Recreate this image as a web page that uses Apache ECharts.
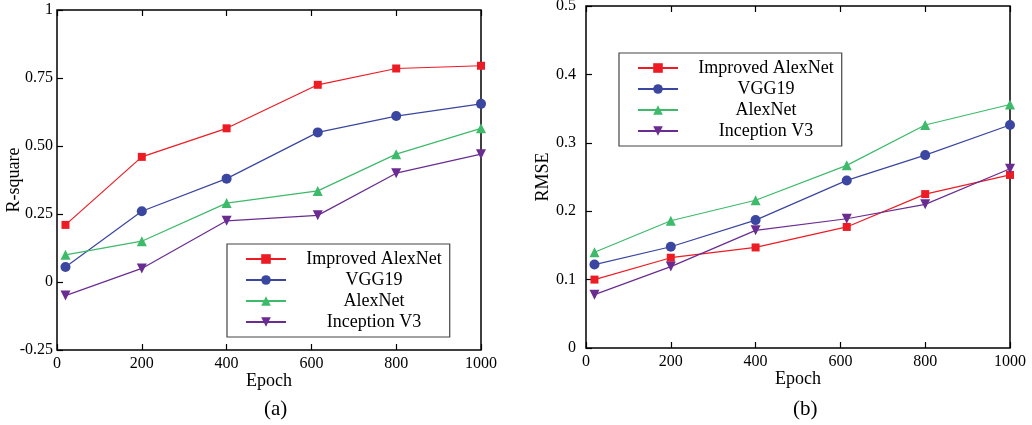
<!DOCTYPE html>
<html>
<head>
<meta charset="utf-8">
<script src="https://cdn.jsdelivr.net/npm/echarts@6/dist/echarts.min.js"></script>
<style>
  html, body { margin: 0; padding: 0; background: #fff; }
  #chart { width: 1032px; height: 425px; }
</style>
</head>
<body>
<div id="chart"></div>
<script>
// epochs of the six checkpoints
const epochs = [20, 200, 400, 615, 800, 1000];
const seriesNames = ['Improved AlexNet', 'VGG19', 'AlexNet', 'Inception V3'];

// (a) R-square
const r2Improved = [0.21, 0.46, 0.565, 0.725, 0.785, 0.795];
const r2Vgg = [0.055, 0.26, 0.38, 0.55, 0.61, 0.655];
const r2Alex = [0.1, 0.15, 0.29, 0.335, 0.47, 0.565];
const r2Incep = [-0.05, 0.05, 0.225, 0.245, 0.4, 0.47];

// (b) RMSE
const rmseImproved = [0.1, 0.132, 0.147, 0.177, 0.225, 0.253];
const rmseVgg = [0.122, 0.148, 0.187, 0.245, 0.282, 0.326];
const rmseAlex = [0.14, 0.186, 0.216, 0.267, 0.326, 0.356];
const rmseIncep = [0.078, 0.119, 0.172, 0.189, 0.21, 0.262];

const r2Ticks = { '-0.25': '-0.25', '0': '0', '0.25': '0.25', '0.5': '0.50', '0.75': '0.75', '1': '1' };
const rmseTicks = ['0', '0.1', '0.2', '0.3', '0.4', '0.5'];

const colors = ['#ed1c24', '#3a46a0', '#3dba6a', '#6a2c91'];
const symbols = ['rect', 'circle', 'triangle', 'path://M0,0 L10,0 L5,9 Z'];
const symbolSizes = [8, 10, 10, 10];

const font = 'Liberation Serif';

let chart = echarts.init(document.getElementById('chart'));

function makeSeries(name, idx, data, gi) {
  return {
    name: name,
    type: 'line',
    xAxisIndex: gi * 2,
    yAxisIndex: gi,
    data: epochs.map((e, i) => [e, data[i]]),
    symbol: symbols[idx],
    symbolSize: symbolSizes[idx],
    showAllSymbol: true,
    lineStyle: { color: colors[idx], width: 1.2 },
    itemStyle: { color: colors[idx] },
    emphasis: { disabled: true },
  };
}

function xAxes(gi) {
  return [
    {
      type: 'value',
      gridIndex: gi,
      min: 0,
      max: 1000,
      interval: 200,
      name: 'Epoch',
      nameLocation: 'middle',
      nameGap: 22,
      nameMoveOverlap: false,
      nameTextStyle: { fontFamily: font, fontSize: 18, color: '#000' },
      axisLine: { show: false, onZero: false },
      axisTick: { inside: true, length: 6, lineStyle: { color: '#000', width: 1.2 } },
      axisLabel: { fontFamily: font, fontSize: 16, color: '#000', margin: 6, formatter: (v) => String(v) },
      splitLine: { show: false },
    },
    {
      type: 'value',
      gridIndex: gi,
      position: 'top',
      min: 0,
      max: 1000,
      interval: 200,
      axisLine: { show: false, onZero: false },
      axisTick: { inside: true, length: 6, lineStyle: { color: '#000', width: 1.2 } },
      axisLabel: { show: false },
      splitLine: { show: false },
    },
  ];
}

function legend(left, top) {
  return {
    orient: 'vertical',
    left: left,
    top: top,
    data: seriesNames,
    itemWidth: 40,
    itemHeight: 12,
    itemGap: 3,
    padding: [6, 8, 6, 18],
    borderColor: '#444',
    borderWidth: 1.2,
    selectedMode: false,
    formatter: (name) => '{t|' + name + '}',
    textStyle: {
      fontFamily: font,
      fontSize: 18,
      color: '#000',
      rich: { t: { width: 166, align: 'center', fontFamily: font, fontSize: 18, color: '#000' } },
    },
  };
}

chart.setOption({
  animation: false,
  backgroundColor: '#fff',
  title: [
    { text: '(a)', left: 259, top: 394, textStyle: { fontFamily: font, fontSize: 21, fontWeight: 'normal', color: '#000' } },
    { text: '(b)', left: 788, top: 394, textStyle: { fontFamily: font, fontSize: 21, fontWeight: 'normal', color: '#000' } },
  ],
  grid: [
    { left: 57, right: 551, top: 10, bottom: 75, show: true, borderColor: '#000', borderWidth: 1.5, outerBoundsMode: 'none' },
    { left: 586, right: 22, top: 6, bottom: 77, show: true, borderColor: '#000', borderWidth: 1.5, outerBoundsMode: 'none' },
  ],
  legend: [legend(227, 244), legend(619, 53)],
  xAxis: xAxes(0).concat(xAxes(1)),
  yAxis: [
    {
      type: 'value',
      gridIndex: 0,
      min: -0.25,
      max: 1,
      interval: 0.25,
      name: 'R-square',
      nameLocation: 'middle',
      nameGap: 34,
      nameMoveOverlap: false,
      nameTextStyle: { fontFamily: font, fontSize: 18, color: '#000' },
      axisLine: { show: false, onZero: false },
      axisTick: { inside: true, length: 6, lineStyle: { color: '#000', width: 1.2 } },
      axisLabel: {
        fontFamily: font, fontSize: 16, color: '#000', margin: 4,
        formatter: (v) => r2Ticks[String(Math.round(v * 100) / 100)],
      },
      splitLine: { show: false },
    },
    {
      type: 'value',
      gridIndex: 1,
      min: 0,
      max: 0.5,
      interval: 0.1,
      name: 'RMSE',
      nameLocation: 'middle',
      nameGap: 34,
      nameMoveOverlap: false,
      nameTextStyle: { fontFamily: font, fontSize: 18, color: '#000' },
      axisLine: { show: false, onZero: false },
      axisTick: { inside: true, length: 6, lineStyle: { color: '#000', width: 1.2 } },
      axisLabel: {
        fontFamily: font, fontSize: 16, color: '#000', margin: 10,
        formatter: (v) => rmseTicks[Math.round(v * 10)],
      },
      splitLine: { show: false },
    },
  ],
  series: [
    makeSeries(seriesNames[0], 0, r2Improved, 0),
    makeSeries(seriesNames[1], 1, r2Vgg, 0),
    makeSeries(seriesNames[2], 2, r2Alex, 0),
    makeSeries(seriesNames[3], 3, r2Incep, 0),
    makeSeries(seriesNames[0], 0, rmseImproved, 1),
    makeSeries(seriesNames[1], 1, rmseVgg, 1),
    makeSeries(seriesNames[2], 2, rmseAlex, 1),
    makeSeries(seriesNames[3], 3, rmseIncep, 1),
  ],
});
</script>
</body>
</html>
